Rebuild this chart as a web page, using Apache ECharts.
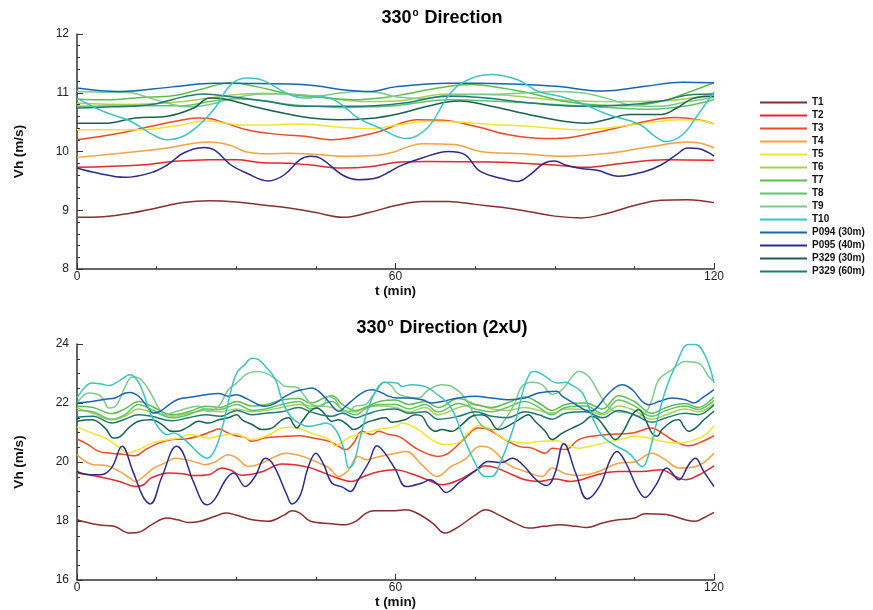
<!DOCTYPE html>
<html>
<head>
<meta charset="utf-8">
<script src="https://cdn.jsdelivr.net/npm/echarts@6/dist/echarts.min.js"></script>
<style>
html,body{margin:0;padding:0;background:#fff;}
#chart{width:873px;height:610px;}
</style>
</head>
<body>
<div id="chart"></div>
<script>
// ---------- names ----------
const seriesNames = ['T1','T2','T3','T4','T5','T6','T7','T8','T9','T10','P094 (30m)','P095 (40m)','P329 (30m)','P329 (60m)'];
const seriesColors = ['#8c2d2d','#e8262b','#f04a25','#f9a040','#f5e52a','#a6d14f','#5cbf4a','#5ec46a','#7cca8c','#3cc3c3','#1565b5','#2a2a8f','#17624e','#1f7a78'];
const xTickLabels = [0, 60, 120];

// ---------- top chart (330° Direction) ----------
const topT1 = [[0,8.88],[5,8.89],[10,8.95],[15,9.04],[20,9.13],[25,9.16],[30,9.14],[35,9.09],[40,9.04],[45,8.96],[50,8.88],[55,8.96],[60,9.08],[65,9.15],[70,9.15],[75,9.1],[80,9.05],[85,8.98],[90,8.9],[95,8.87],[100,8.95],[105,9.08],[110,9.17],[115,9.18],[120,9.13]];
const topT2 = [[0,9.73],[12,9.77],[18,9.83],[25,9.86],[30,9.86],[35,9.81],[40,9.8],[44,9.77],[50,9.72],[55,9.74],[61,9.82],[66,9.83],[78,9.82],[90,9.77],[96,9.73],[102,9.79],[111,9.86],[120,9.85]];
const topT3 = [[0,10.2],[8,10.31],[14,10.43],[20,10.54],[23,10.57],[25,10.56],[28,10.48],[32,10.37],[37,10.3],[43,10.26],[48,10.2],[52,10.24],[57,10.34],[61,10.48],[64,10.54],[69,10.53],[75,10.43],[81,10.29],[88,10.22],[92,10.23],[97,10.31],[103,10.43],[110,10.56],[113,10.58],[117,10.54],[120,10.47]];
const topT4 = [[0,9.9],[8,9.97],[17,10.06],[22,10.14],[25,10.16],[29,10.1],[32,9.99],[36,9.96],[40,9.97],[45,9.95],[50,9.92],[56,9.93],[60,10.0],[62,10.07],[65,10.13],[71,10.12],[76,10.0],[84,9.96],[92,9.92],[100,9.97],[108,10.08],[115,10.16],[117,10.15],[120,10.06]];
const topT5 = [[0,10.37],[12,10.37],[18,10.43],[23,10.51],[25,10.52],[28,10.48],[31,10.45],[37,10.45],[40,10.47],[44,10.46],[50,10.41],[55,10.39],[61,10.46],[66,10.51],[69,10.51],[78,10.46],[85,10.43],[95,10.37],[100,10.4],[106,10.47],[114,10.54],[117,10.53],[120,10.47]];
const topT6 = [[0,10.82],[10,10.8],[20,10.85],[28,10.95],[35,10.99],[45,10.93],[55,10.85],[60,10.86],[70,10.98],[80,10.96],[90,10.88],[100,10.85],[110,10.86],[120,10.98]];
const topT7 = [[0,10.89],[6,10.88],[12,10.92],[18,10.95],[23,11.05],[29,11.17],[34,11.1],[40,10.98],[45,10.93],[52,10.88],[58,10.92],[62,10.98],[68,11.08],[74,11.14],[80,11.08],[86,10.98],[92,10.85],[98,10.79],[104,10.78],[110,10.85],[115,11.0],[120,11.17]];
const topT8 = [[0,10.77],[10,10.78],[20,10.78],[25,10.85],[30,10.9],[35,10.87],[40,10.8],[45,10.77],[50,10.75],[55,10.76],[60,10.78],[70,10.88],[80,10.85],[90,10.8],[100,10.75],[108,10.72],[115,10.78],[120,10.88]];
const topT9 = [[0,11.02],[5,11.01],[10,11.0],[14,10.9],[18,10.8],[21,10.76],[25,10.8],[30,10.92],[35,10.98],[40,10.98],[45,10.95],[50,11.0],[53,11.02],[57,11.0],[60,10.93],[65,10.9],[70,10.96],[75,10.97],[80,10.98],[85,11.0],[90,11.02],[95,11.0],[100,10.9],[105,10.78],[110,10.77],[115,10.85],[120,10.92]];
const topT10 = [[0,10.91],[5,10.68],[10,10.52],[14,10.3],[17,10.2],[20,10.26],[23,10.45],[26,10.74],[29,11.14],[32,11.25],[35,11.21],[40,10.97],[43,10.91],[46,10.93],[49,10.85],[53,10.57],[57,10.4],[62,10.22],[66,10.4],[70,10.95],[73,11.19],[78,11.31],[83,11.22],[87,11.02],[91,10.94],[95,10.82],[100,10.63],[106,10.46],[109,10.25],[111,10.17],[114,10.28],[117,10.63],[120,11.02]];
const topP094 = [[0,11.08],[8,11.02],[18,11.1],[26,11.16],[40,11.15],[45,11.12],[50,11.05],[55,11.02],[60,11.1],[70,11.16],[75,11.16],[90,11.11],[99,11.03],[107,11.11],[114,11.18],[120,11.17]];
const topP095 = [[0,9.72],[4,9.63],[9,9.56],[14,9.64],[17,9.77],[20,9.97],[24,10.07],[26,10.02],[29,9.77],[32,9.63],[36,9.5],[39,9.6],[42,9.86],[44,9.92],[46,9.88],[50,9.6],[53,9.52],[56,9.54],[59,9.66],[61,9.76],[65,9.89],[70,10.0],[73,9.95],[76,9.66],[81,9.52],[83,9.49],[85,9.58],[88,9.8],[90,9.84],[92,9.77],[95,9.71],[98,9.68],[102,9.58],[107,9.66],[110,9.77],[113,9.95],[115,10.06],[117,10.05],[119,9.98],[120,9.92]];
const topP329a = [[0,10.48],[5,10.48],[11,10.57],[17,10.6],[22,10.74],[25,10.91],[28,10.89],[33,10.77],[39,10.65],[44,10.57],[49,10.54],[55,10.56],[61,10.65],[66,10.77],[72,10.86],[78,10.77],[85,10.63],[92,10.51],[96,10.48],[100,10.55],[104,10.63],[110,10.63],[113,10.74],[116,10.9],[120,10.94]];
const topP329b = [[0,10.74],[7,10.76],[14,10.8],[20,10.93],[24,10.98],[29,10.93],[36,10.85],[42,10.77],[50,10.77],[56,10.78],[62,10.83],[70,10.94],[76,10.92],[85,10.83],[94,10.77],[103,10.79],[110,10.86],[116,10.97],[120,10.98]];

// ---------- bottom chart (330° Direction (2xU)) ----------
const botT1 = [[0,18.04],[4,17.87],[7,17.82],[10,17.59],[12,17.64],[14,17.87],[17,18.1],[19,18.04],[21,17.95],[23,17.98],[26,18.16],[28,18.27],[30,18.2],[33,18.04],[36,17.99],[39,18.2],[40.5,18.35],[42,18.27],[44,17.99],[48,17.91],[50.5,17.87],[52.5,17.99],[54.5,18.27],[56,18.35],[60,18.35],[62,18.38],[64,18.27],[67,17.93],[69.3,17.59],[72,17.82],[75,18.2],[77,18.38],[79.5,18.2],[82.5,17.93],[85,17.76],[88,17.82],[91,17.87],[94,17.82],[96,17.78],[99,17.93],[102,18.04],[105,18.1],[107,18.25],[111,18.22],[114.6,18.04],[116.5,17.99],[118,18.1],[120,18.29]];
const botT2 = [[0,19.63],[4,19.51],[8,19.34],[11,19.17],[12.5,19.22],[14,19.46],[17.3,19.63],[20,19.6],[22,19.54],[25,19.58],[27.3,19.8],[29,19.72],[31,19.55],[35,19.68],[38.6,19.93],[41,19.91],[44,19.8],[46.5,19.63],[49,19.46],[51.8,19.34],[54,19.51],[57,19.68],[60,19.74],[63,19.6],[66,19.4],[68.7,19.23],[72,19.4],[75,19.7],[76.9,19.87],[79,19.8],[82,19.57],[84.4,19.4],[87,19.34],[90,19.42],[93,19.34],[95,19.4],[98,19.57],[102,19.68],[106.5,19.68],[110,19.74],[112.7,19.51],[114.6,19.4],[117,19.55],[120,19.87]];
const botT3 = [[0,20.78],[2,20.6],[4.1,20.36],[6.5,20.3],[9,20.25],[11,20.21],[12.9,20.42],[15.4,20.64],[17.9,20.76],[20.4,20.78],[23,20.88],[25.4,21.04],[26.7,21.12],[28.5,20.98],[30,20.89],[31.7,20.82],[33,20.7],[35.5,20.82],[39.3,20.87],[41.8,20.89],[44.3,20.82],[47.5,20.7],[49.3,20.53],[50.6,20.42],[52.1,20.64],[53.7,21.04],[55.6,20.93],[56.8,21.04],[58.7,20.93],[60,20.9],[61.2,20.81],[64.3,20.42],[68.1,20.19],[70,20.3],[73.1,20.81],[75.6,21.15],[77.5,21.1],[80.6,20.76],[83.2,20.53],[85.7,20.47],[88.2,20.3],[89.5,20.47],[92,20.42],[94.5,20.76],[97,20.87],[100,20.93],[104.6,20.98],[108.3,21.15],[110.2,20.98],[112.7,20.7],[115.2,20.55],[117.1,20.64],[120,20.89]];
const botT4 = [[0,20.25],[3,19.91],[5.5,19.88],[8,19.68],[10,19.45],[11,19.34],[12.5,19.5],[14.5,19.8],[16.5,19.96],[18.5,20.13],[20.5,20.08],[23,19.96],[24,19.91],[26,20.0],[28.5,20.25],[30,20.15],[32.3,19.85],[34.8,19.96],[37.4,20.19],[39.3,20.3],[42.5,20.19],[45.6,19.96],[47.5,19.8],[49.3,19.51],[51,19.7],[53,20.19],[54.5,20.08],[57,20.19],[60,20.3],[62,20.36],[65,19.9],[67.8,19.51],[70.5,19.85],[73,20.08],[76,20.53],[78,20.45],[81.3,19.91],[84.4,19.68],[87.6,19.51],[89.5,19.8],[92,19.6],[94.5,19.54],[98.3,19.68],[102,19.96],[105,20.0],[108.3,20.3],[110.8,20.08],[113.4,19.8],[116.5,19.85],[120,20.3]];
const botT5 = [[0,21.19],[2.8,20.98],[5.3,20.81],[7.2,20.6],[8.5,20.42],[9.4,20.3],[11.6,20.42],[14.1,20.64],[17.3,20.76],[19.2,20.81],[21.1,20.93],[23,20.88],[24.8,20.81],[26.7,20.88],[30,20.96],[31.7,20.81],[33,20.76],[35.5,20.87],[37.4,21.04],[38.6,21.15],[40.5,21.18],[42.4,21.1],[44.9,20.93],[47.5,20.76],[48.7,20.55],[50.6,20.76],[51.8,20.87],[54.3,20.98],[56.8,21.1],[60,21.2],[61.2,21.32],[64.3,21.1],[66.8,20.76],[69.3,20.59],[71.8,20.65],[73.7,20.98],[75.6,21.23],[78.1,21.1],[80,20.81],[81.9,20.7],[84.4,20.64],[87.6,20.7],[90.4,20.72],[92.6,20.55],[94.5,20.47],[97,20.55],[99.5,20.65],[102.7,20.78],[105.2,20.87],[107.7,20.81],[110.2,20.7],[113.4,20.64],[116.5,20.76],[118.4,20.93],[120,21.23]];
const botT6 = [[0,21.83],[3,21.65],[6.6,21.43],[9,21.55],[11.6,21.8],[14,21.7],[17.9,21.55],[21,21.65],[24.2,21.75],[27,21.7],[30.1,21.8],[33,21.7],[35.5,21.75],[38.6,21.85],[41.8,21.95],[44,21.9],[48,21.85],[50,21.7],[52.5,21.7],[54.3,21.85],[57,21.9],[60,21.85],[62.5,21.7],[65.6,21.85],[68,21.6],[71.9,21.85],[75,21.95],[78.1,21.8],[81,21.75],[84.4,21.85],[87,21.75],[89.5,21.65],[92,21.8],[95.8,21.78],[99,21.6],[102,21.9],[105,21.75],[108.3,21.45],[111,21.6],[114.6,21.8],[117,21.7],[120,21.98]];
const botT7 = [[0,21.89],[3,21.85],[6.6,21.64],[9,21.8],[11.6,22.05],[14,21.9],[17.9,21.6],[21,21.7],[24.2,21.89],[27,21.85],[30.1,22.05],[33,21.9],[35.5,21.94],[38.6,22.1],[41.8,22.15],[44,22.0],[48,22.25],[50,21.95],[52.5,21.75],[54.3,21.85],[57,22.05],[60,22.1],[62.5,21.95],[65.6,22.05],[68,21.85],[71.9,22.15],[75,21.95],[78.1,21.85],[81,22.0],[84.4,22.2],[87,22.0],[89.5,21.75],[92,21.95],[95.8,22.0],[99,21.8],[102,22.25],[105,22.05],[108.3,21.65],[111,21.85],[114.6,21.98],[117,21.85],[120,22.2]];
const botT8 = [[0,21.75],[3,21.7],[6.6,21.45],[9,21.6],[11.6,21.95],[14,21.78],[17.9,21.5],[21,21.6],[24.2,21.8],[27,21.78],[30.1,21.95],[33,21.75],[35.5,21.8],[38.6,21.95],[41.8,22.05],[44,21.8],[48,22.05],[50,21.78],[52.5,21.6],[54.3,21.8],[57,21.95],[60,21.95],[62.5,21.8],[65.6,21.95],[68,21.7],[71.9,21.98],[75,21.8],[78.1,21.7],[81,21.85],[84.4,22.05],[87,21.85],[89.5,21.6],[92,21.85],[95.8,21.9],[99,21.65],[102,22.1],[105,21.9],[108.3,21.55],[111,21.75],[114.6,21.9],[117,21.78],[120,22.09]];
const botT9 = [[0,22.0],[2.2,22.34],[4.1,22.28],[5,22.11],[6,21.83],[7.2,21.88],[9.1,22.56],[10.4,22.88],[11.6,22.85],[13.5,22.45],[15.4,21.83],[16.6,21.6],[17.9,21.66],[19.8,21.77],[22.9,21.89],[24.8,21.72],[26.7,21.89],[28.5,22.45],[30.1,22.68],[31.7,22.95],[33.6,23.07],[35.5,23.02],[38,22.73],[39.3,22.56],[41.2,22.54],[42.7,22.28],[44.3,21.94],[46.2,21.89],[47.4,22.22],[48.7,22.1],[49.9,21.77],[51.2,21.72],[52.4,21.89],[54.3,21.94],[55.6,22.22],[56.8,22.5],[57.8,22.7],[59,22.62],[60.3,22.34],[61.8,22.22],[64.3,22.17],[66.2,22.45],[68.7,22.62],[70.6,22.56],[73.1,22.17],[75,21.55],[76.9,21.15],[78.8,21.1],[80.6,21.43],[82.5,22.0],[83.8,22.56],[85.7,22.7],[87.6,22.62],[89.5,22.3],[91.4,22.45],[93.3,22.9],[94.5,23.07],[96.4,22.9],[98.3,22.34],[99.9,21.89],[101.4,21.72],[103.9,21.66],[105.8,21.55],[107.1,21.66],[108.3,22.1],[109.6,22.79],[112.1,23.13],[114.6,23.41],[117.1,23.35],[119,22.9],[120,22.73]];
const botT10 = [[0,22.17],[1.6,22.56],[2.8,22.68],[4.7,22.64],[6,22.59],[7.8,22.73],[9.4,22.93],[10,22.96],[11.3,22.79],[12.5,22.34],[13.8,21.66],[15.4,21.15],[17,20.93],[18.2,20.98],[19.1,20.93],[21,20.64],[23.2,20.25],[24.5,20.13],[26,20.42],[27.6,21.32],[28.9,22.34],[30.1,23.02],[31.6,23.3],[33,23.52],[34.2,23.47],[35.5,23.24],[37.4,22.79],[38.6,22.11],[40.2,21.55],[41.8,21.32],[43.6,21.21],[45.5,21.26],[46.8,21.32],[48.7,21.1],[50.3,20.42],[51.2,19.8],[52.1,19.95],[53.4,20.87],[55,21.89],[56.8,22.56],[58.1,22.7],[60.3,22.68],[61.2,22.56],[63,22.62],[65.6,22.56],[67.5,22.34],[70.3,21.89],[72.5,20.98],[74.7,20.08],[76.9,19.51],[78.1,19.51],[80,20.08],[82.5,21.32],[84.1,22.45],[85.4,23.02],[86.3,23.07],[88.2,22.9],[90.4,22.68],[92,22.7],[93.3,22.6],[95.2,22.34],[97.3,21.43],[98.9,20.9],[101,20.6],[104,20.3],[106.5,19.85],[107.4,20.08],[109,21.2],[110.9,22.45],[112.7,23.24],[115.2,23.98],[116.5,23.98],[118.4,23.58],[120,22.68]];
const botP094 = [[0,22.0],[2.8,22.05],[5.3,22.13],[7.2,22.17],[9.1,22.34],[10,22.36],[11.6,22.23],[13.2,21.89],[14.4,21.66],[15.7,21.72],[17.3,21.94],[19.1,22.13],[21.7,22.2],[24.2,22.28],[26.7,22.32],[28.5,22.23],[30,22.28],[31.7,22.17],[34.2,21.94],[35.5,21.89],[37.4,22.0],[39.3,22.23],[41.2,22.4],[43,22.47],[44.3,22.51],[45.5,22.4],[47.4,22.05],[48.7,21.77],[49.3,21.72],[50.6,21.89],[52.4,22.17],[54.3,22.4],[55.6,22.45],[57.5,22.34],[58.7,22.23],[60.3,22.17],[62.4,22.17],[65,22.11],[66.8,22.0],[68.7,22.05],[71.8,22.17],[75,22.23],[78.1,22.17],[81.3,22.11],[84.4,22.17],[86.9,22.34],[90.4,22.4],[91.4,22.23],[92.6,22.1],[94.5,21.89],[96.4,21.72],[97.7,21.8],[99.9,22.28],[101.7,22.56],[102.7,22.62],[104.6,22.45],[106.5,22.05],[107.7,21.94],[109.6,22.05],[112.1,22.17],[114.6,22.11],[116.2,22.0],[117.8,22.17],[120,22.45]];
const botP095 = [[0,19.68],[2.5,19.57],[4.5,19.57],[6.5,19.8],[8.5,20.53],[10.5,19.7],[12.5,18.8],[13.8,18.58],[16,19.5],[18.8,20.53],[20,20.3],[22,19.3],[24.5,18.55],[26,18.75],[28,19.4],[29.5,19.63],[31.7,19.17],[33.5,19.5],[35.5,20.13],[37,19.9],[39.5,18.9],[40.5,18.58],[42,18.85],[43.5,19.8],[45,20.3],[46.5,19.9],[48,19.29],[50,19.15],[51.5,19.0],[53,19.4],[55,20.0],[56.5,20.55],[58,20.3],[60,19.74],[62,19.17],[65,19.29],[66.5,19.4],[68,19.23],[69.5,18.97],[72,19.3],[75,19.7],[77.5,20.02],[80,19.98],[82,20.13],[84,19.9],[86.5,19.4],[88.5,19.2],[90,19.6],[91.7,20.62],[94,19.6],[96.1,18.75],[98.5,19.2],[100.5,20.1],[101.7,20.36],[103.3,20.0],[105.6,19.1],[107,18.8],[109,19.2],[111.1,19.8],[113.4,19.4],[115.2,19.9],[116.5,20.13],[118,19.7],[120,19.17]];
const botP329a = [[0,21.38],[2.8,21.43],[5.3,21.15],[6.9,20.81],[8.2,20.87],[9.7,21.15],[11.6,21.38],[14.1,21.43],[16,21.27],[17.9,21.04],[19.1,21.04],[21,21.2],[22.9,21.38],[24.8,21.32],[26.7,21.43],[28.5,21.5],[30.1,21.6],[31.1,21.43],[33,21.27],[34.8,21.1],[36.7,21.15],[38.6,21.43],[39.9,21.5],[40.8,21.27],[41.4,21.15],[42.4,21.38],[43.9,21.72],[45.2,21.83],[46.5,21.66],[48,21.38],[49.3,21.43],[50.9,21.27],[52.1,21.1],[53,21.15],[54.3,21.32],[56.2,21.43],[58.1,21.5],[59.3,21.35],[61.8,21.43],[63.7,21.6],[65,21.55],[66.2,21.2],[67.5,21.04],[68.7,21.1],[70.6,21.04],[72.5,21.27],[74.4,21.55],[76.3,21.6],[77.5,21.5],[79.4,21.1],[81,21.2],[83.2,21.43],[85,21.6],[86.3,21.38],[88.2,21.04],[89.5,20.76],[91.4,20.98],[93.3,21.15],[95.2,21.32],[97,21.55],[98.3,21.43],[100.2,20.98],[101.4,20.76],[102.7,20.98],[104.6,21.6],[105.8,21.77],[107.1,21.43],[108.3,20.98],[109.3,20.87],[110.2,21.1],[112.1,21.38],[113.4,21.43],[114.3,21.2],[115.2,21.04],[116.5,21.15],[118.1,21.43],[120,21.72]];
const botP329b = [[0,21.52],[3,21.55],[6.6,21.32],[9,21.45],[11.6,21.6],[14,21.55],[17.9,21.4],[21,21.5],[24.2,21.6],[27,21.55],[30.1,21.75],[33,21.6],[35.5,21.65],[38.6,21.7],[41.8,21.85],[44,21.7],[48,21.55],[50,21.65],[52.5,21.5],[54.3,21.6],[57,21.75],[60,21.8],[62.5,21.65],[65.6,21.7],[68,21.45],[71.9,21.55],[75,21.7],[78.1,21.55],[81,21.5],[84.4,21.7],[87,21.6],[89.5,21.45],[92,21.65],[95.8,21.7],[99,21.5],[102,21.75],[105,21.6],[108.3,21.35],[111,21.5],[114.6,21.65],[117,21.6],[120,21.94]];

const topData = [topT1,topT2,topT3,topT4,topT5,topT6,topT7,topT8,topT9,topT10,topP094,topP095,topP329a,topP329b];
const botData = [botT1,botT2,botT3,botT4,botT5,botT6,botT7,botT8,botT9,botT10,botP094,botP095,botP329a,botP329b];

const FONT = '"Liberation Sans", Arial, Helvetica, sans-serif';
const axisCol = '#333';

function xAxisCfg(gi){
  return {
    type:'value', gridIndex:gi, min:0, max:120, interval:60,
    name:'t (min)', nameLocation:'middle', nameGap:9,
    nameTextStyle:{fontFamily:FONT,fontWeight:'bold',fontSize:13.5,color:'#111'},
    axisLine:{show:true,lineStyle:{color:axisCol,width:1.5}},
    axisTick:{show:true,inside:true,length:6,lineStyle:{color:axisCol,width:1}},
    minorTick:{show:true,splitNumber:4,length:3,lineStyle:{color:axisCol,width:1}},
    splitLine:{show:false}, minorSplitLine:{show:false},
    axisLabel:{margin:2,fontFamily:FONT,fontSize:12,color:'#222',
      formatter:function(v){return xTickLabels.indexOf(v)>=0?String(v):'';}}
  };
}
function yAxisCfg(gi,mn,mx,itv,minorSplit){
  return {
    type:'value', gridIndex:gi, min:mn, max:mx, interval:itv,
    name:'Vh (m/s)', nameLocation:'middle', nameGap:51, nameRotate:90,
    nameTextStyle:{fontFamily:FONT,fontWeight:'bold',fontSize:13.5,color:'#111'},
    axisLine:{show:true,lineStyle:{color:axisCol,width:1.5}},
    axisTick:{show:true,inside:true,length:6,lineStyle:{color:axisCol,width:1}},
    minorTick:{show:true,splitNumber:minorSplit,length:3,lineStyle:{color:axisCol,width:1}},
    splitLine:{show:false}, minorSplitLine:{show:false},
    axisLabel:{margin:8,fontFamily:FONT,fontSize:12,color:'#222'}
  };
}

const series = [];
seriesNames.forEach(function(n,i){
  series.push({name:n,type:'line',xAxisIndex:0,yAxisIndex:0,data:topData[i],smooth:0.4,symbol:'none',
    lineStyle:{width:1.5,color:seriesColors[i]},itemStyle:{color:seriesColors[i]},z:i===9?5:2});
  series.push({name:n,type:'line',xAxisIndex:1,yAxisIndex:1,data:botData[i],smooth:0.4,symbol:'none',
    lineStyle:{width:1.5,color:seriesColors[i]},itemStyle:{color:seriesColors[i]},z:i===9?5:2});
});

const titleRich = {
  a:{fontFamily:FONT,fontWeight:'bold',fontSize:18,color:'#111'},
  s:{fontFamily:FONT,fontWeight:'bold',fontSize:10,color:'#111',padding:[0,1,9,1]}
};

const chart = echarts.init(document.getElementById('chart'),null,{renderer:'canvas'});
chart.setOption({
  backgroundColor:'#fff',
  animation:false,
  grid:[
    {left:77,top:34,width:637,height:235},
    {left:77,top:344,width:637,height:236}
  ],
  xAxis:[xAxisCfg(0),xAxisCfg(1)],
  yAxis:[yAxisCfg(0,8,12,1,5),yAxisCfg(1,16,24,2,4)],
  legend:{
    orient:'vertical', left:755, top:91, itemGap:0,
    itemWidth:47, itemHeight:2, icon:'rect',
    data:seriesNames,
    textStyle:{fontFamily:FONT,fontWeight:'bold',fontSize:10,color:'#111',lineHeight:13}
  },
  graphic:[
    {type:'text',x:442,y:18,style:{text:'{a|330}{s|o}{a| Direction}',rich:titleRich,align:'center',verticalAlign:'middle'}},
    {type:'text',x:442,y:328,style:{text:'{a|330}{s|o}{a| Direction (2xU)}',rich:titleRich,align:'center',verticalAlign:'middle'}}
  ],
  series:series
});
</script>
</body>
</html>
